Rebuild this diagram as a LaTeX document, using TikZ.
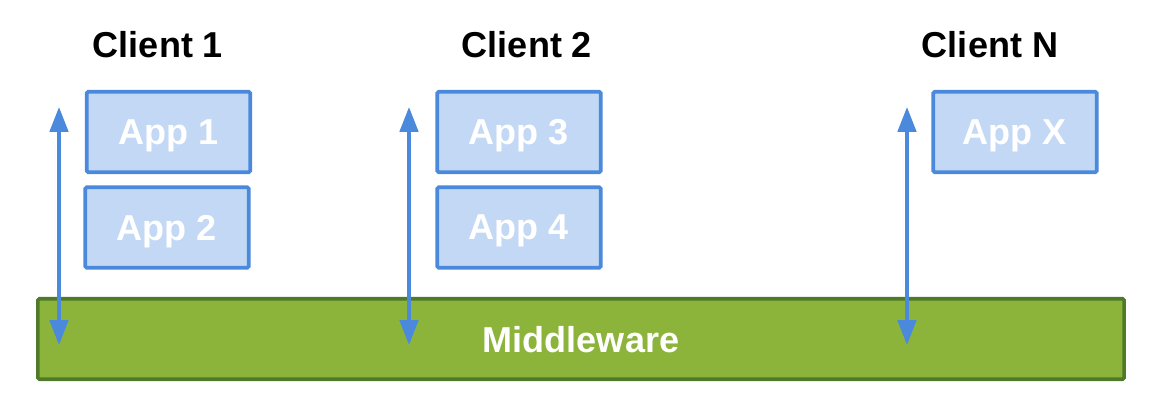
\documentclass[tikz,border=0pt]{standalone}
\usepackage{fontspec}
\setmainfont{Liberation Sans}
\usetikzlibrary{arrows.meta}
\definecolor{appfill}{HTML}{C3D8F4}
\definecolor{appline}{HTML}{4A89DC}
\definecolor{mwfill}{HTML}{8CB43A}
\definecolor{mwline}{HTML}{4E7A2A}
\tikzset{
  bigfont/.style={font=\fontsize{20.5}{24}\selectfont\bfseries},
  appbox/.style={draw=appline, fill=appfill, line width=0.072cm, rounded corners=0.03cm,
    minimum width=3.27cm, minimum height=1.61cm, inner sep=0pt, text depth=0pt,
    text=white, bigfont},
  mwbox/.style={draw=mwline, fill=mwfill, line width=0.072cm, rounded corners=0.03cm,
    minimum width=21.73cm, minimum height=1.61cm, inner sep=0pt, text depth=0pt,
    text=white, bigfont},
  clientlabel/.style={text=black, bigfont},
  link/.style={draw=appline, line width=0.068cm,
    {Triangle[length=0.5cm,width=0.37cm]}-{Triangle[length=0.5cm,width=0.37cm]}}
}
\begin{document}
\begin{tikzpicture}[x=0.02cm, y=-0.02cm]
            \useasboundingbox (0, 0) rectangle (1164, 406);

            \node[mwbox] (mw) at (581, 339) {Middleware};

            \node[clientlabel] (client1) at (158, 45) {Client 1};
            \node[clientlabel] (client2) at (527, 45) {Client 2};
            \node[clientlabel] (clientN) at (990, 45) {Client N};

            \node[appbox] (app1) at (168.5, 132) {App 1};
            \node[appbox] (app2) at (167, 227.5) {App 2};
            \node[appbox] (app3) at (519, 132) {App 3};
            \node[appbox] (app4) at (519, 227.5) {App 4};
            \node[appbox] (appX) at (1015, 132) {App X};

            \path (59, 107) coordinate (top1);
            \path (59, 345) coordinate (bot1);
            \path (409, 107) coordinate (top2);
            \path (409, 345) coordinate (bot2);
            \path (907, 107) coordinate (topN);
            \path (907, 345) coordinate (botN);

            \draw[link] (top1) -- (bot1);
            \draw[link] (top2) -- (bot2);
            \draw[link] (topN) -- (botN);
        \end{tikzpicture}
\end{document}
